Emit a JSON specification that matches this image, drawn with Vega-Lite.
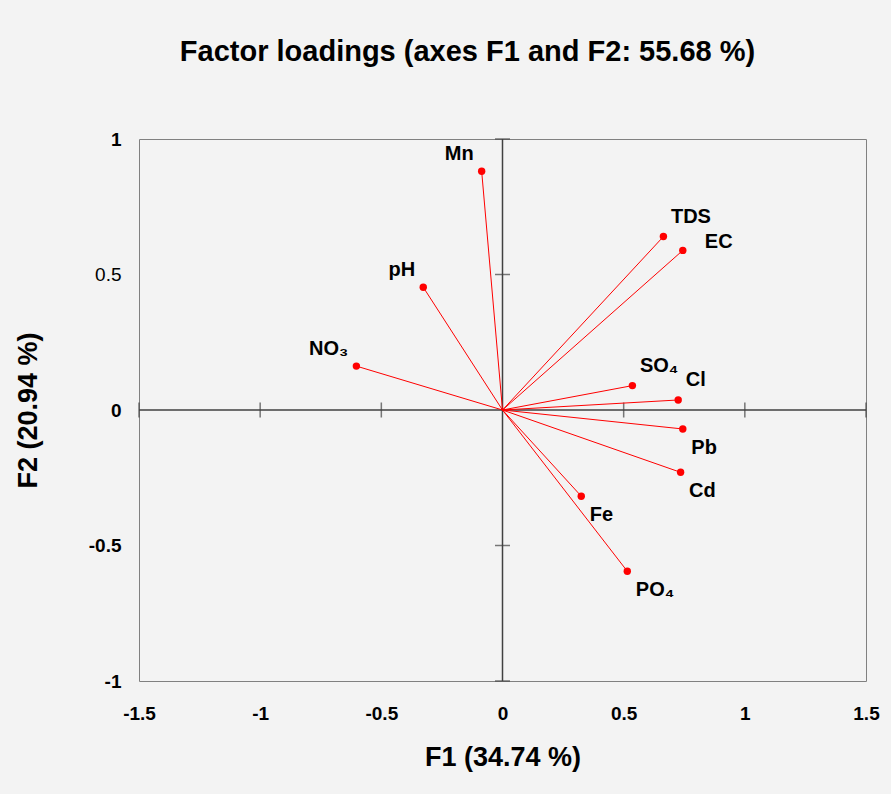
{
  "$schema": "https://vega.github.io/schema/vega-lite/v6.json",
  "autosize": {"type": "none"},
  "width": 727,
  "height": 542,
  "padding": {"left": 139, "top": 139, "right": 25, "bottom": 113},
  "background": "#f3f3f3",
  "title": {
    "text": "Factor loadings (axes F1 and F2: 55.68 %)",
    "font": "Liberation Sans",
    "fontSize": 29,
    "fontWeight": "bold",
    "color": "#000000",
    "anchor": "middle",
    "frame": "group",
    "baseline": "alphabetic",
    "offset": 40,
    "dx": -35
  },
  "config": {
    "view": {"stroke": "#808080", "strokeWidth": 1, "fill": "#f3f3f3"},
    "axis": {
      "domain": false,
      "ticks": false,
      "tickSize": 0,
      "grid": false,
      "labelFont": "Liberation Sans",
      "labelFontSize": 19,
      "labelColor": "#000000",
      "labelFlush": false,
      "labelOverlap": false,
      "titleFont": "Liberation Sans",
      "titleFontSize": 27,
      "titleFontWeight": "bold",
      "titleColor": "#000000"
    },
    "axisX": {"labelPadding": 23, "titlePadding": 21, "labelFontWeight": "bold"},
    "axisY": {"labelPadding": 18, "titlePadding": 46}
  },
  "datasets": {
    "loadings": [
      {"variable": "Mn", "F1": -0.086, "F2": 0.881},
      {"variable": "pH", "F1": -0.327, "F2": 0.453},
      {"variable": "NO₃", "F1": -0.603, "F2": 0.162},
      {"variable": "TDS", "F1": 0.664, "F2": 0.640},
      {"variable": "EC", "F1": 0.744, "F2": 0.589},
      {"variable": "SO₄", "F1": 0.536, "F2": 0.090},
      {"variable": "Cl", "F1": 0.725, "F2": 0.037},
      {"variable": "Pb", "F1": 0.744, "F2": -0.070},
      {"variable": "Cd", "F1": 0.735, "F2": -0.230},
      {"variable": "Fe", "F1": 0.325, "F2": -0.318},
      {"variable": "PO₄", "F1": 0.515, "F2": -0.595}
    ],
    "axisLines": [
      {"xa": -1.5, "xb": 1.5, "ya": 0, "yb": 0},
      {"xa": 0, "xb": 0, "ya": -1, "yb": 1}
    ],
    "xTicks": [{"v": -1.5}, {"v": -1}, {"v": -0.5}, {"v": 0.5}, {"v": 1}, {"v": 1.5}],
    "yTicks": [{"v": -1}, {"v": -0.5}, {"v": 0.5}, {"v": 1}]
  },
  "layer": [
    {
      "data": {"name": "axisLines"},
      "mark": {"type": "rule", "color": "#404040", "strokeWidth": 1.5},
      "encoding": {
        "x": {
          "field": "xa", "type": "quantitative", "title": "F1 (34.74 %)",
          "scale": {"domain": [-1.5, 1.5], "nice": false, "zero": false},
          "axis": {
            "title": "F1 (34.74 %)",
            "values": [-1.5, -1, -0.5, 0, 0.5, 1, 1.5],
            "labelExpr": "'' + datum.value"
          }
        },
        "x2": {"field": "xb"},
        "y": {
          "field": "ya", "type": "quantitative", "title": "F2 (20.94 %)",
          "scale": {"domain": [-1, 1], "nice": false, "zero": false},
          "axis": {
            "title": "F2 (20.94 %)",
            "values": [-1, -0.5, 0, 0.5, 1],
            "labelExpr": "'' + datum.value",
            "labelFontWeight": {"condition": {"test": "datum.value === 0.5", "value": "normal"}, "value": "bold"}
          }
        },
        "y2": {"field": "yb"}
      }
    },
    {
      "data": {"name": "xTicks"},
      "mark": {"type": "tick", "orient": "vertical", "color": "#404040", "thickness": 1.5, "size": 15},
      "encoding": {
        "x": {"field": "v", "type": "quantitative", "title": "F1 (34.74 %)"},
        "y": {"datum": 0, "type": "quantitative", "title": "F2 (20.94 %)"}
      }
    },
    {
      "data": {"name": "yTicks"},
      "mark": {"type": "tick", "orient": "horizontal", "color": "#404040", "thickness": 1.5, "size": 15},
      "encoding": {
        "y": {"field": "v", "type": "quantitative", "title": "F2 (20.94 %)"},
        "x": {"datum": 0, "type": "quantitative", "title": "F1 (34.74 %)"}
      }
    },
    {
      "data": {"name": "loadings"},
      "mark": {"type": "rule", "color": "#ff0000", "strokeWidth": 1},
      "encoding": {
        "x": {"field": "F1", "type": "quantitative", "title": "F1 (34.74 %)"},
        "y": {"field": "F2", "type": "quantitative", "title": "F2 (20.94 %)"},
        "x2": {"datum": 0},
        "y2": {"datum": 0}
      }
    },
    {
      "data": {"name": "loadings"},
      "mark": {"type": "point", "shape": "circle", "filled": true, "color": "#ff0000", "size": 55, "opacity": 1},
      "encoding": {
        "x": {"field": "F1", "type": "quantitative", "title": "F1 (34.74 %)"},
        "y": {"field": "F2", "type": "quantitative", "title": "F2 (20.94 %)"}
      }
    },
    {
      "data": {"name": "loadings"},
      "transform": [{"filter": {"field": "variable", "oneOf": ["Mn", "pH", "NO₃"]}}],
      "mark": {"type": "text", "align": "right", "baseline": "alphabetic", "dx": -8, "dy": -11, "font": "Liberation Sans", "fontSize": 20, "fontWeight": "bold", "color": "#000000"},
      "encoding": {
        "x": {"field": "F1", "type": "quantitative", "title": "F1 (34.74 %)"},
        "y": {"field": "F2", "type": "quantitative", "title": "F2 (20.94 %)"},
        "text": {"field": "variable"}
      }
    },
    {
      "data": {"name": "loadings"},
      "transform": [{"filter": {"field": "variable", "oneOf": ["TDS", "SO₄", "Cl"]}}],
      "mark": {"type": "text", "align": "left", "baseline": "alphabetic", "dx": 7.5, "dy": -13.5, "font": "Liberation Sans", "fontSize": 20, "fontWeight": "bold", "color": "#000000"},
      "encoding": {
        "x": {"field": "F1", "type": "quantitative", "title": "F1 (34.74 %)"},
        "y": {"field": "F2", "type": "quantitative", "title": "F2 (20.94 %)"},
        "text": {"field": "variable"}
      }
    },
    {
      "data": {"name": "loadings"},
      "transform": [{"filter": {"field": "variable", "oneOf": ["EC"]}}],
      "mark": {"type": "text", "align": "left", "baseline": "alphabetic", "dx": 22, "dy": -2, "font": "Liberation Sans", "fontSize": 20, "fontWeight": "bold", "color": "#000000"},
      "encoding": {
        "x": {"field": "F1", "type": "quantitative", "title": "F1 (34.74 %)"},
        "y": {"field": "F2", "type": "quantitative", "title": "F2 (20.94 %)"},
        "text": {"field": "variable"}
      }
    },
    {
      "data": {"name": "loadings"},
      "transform": [{"filter": {"field": "variable", "oneOf": ["Pb", "Cd", "Fe", "PO₄"]}}],
      "mark": {"type": "text", "align": "left", "baseline": "alphabetic", "dx": 8.5, "dy": 25, "font": "Liberation Sans", "fontSize": 20, "fontWeight": "bold", "color": "#000000"},
      "encoding": {
        "x": {"field": "F1", "type": "quantitative", "title": "F1 (34.74 %)"},
        "y": {"field": "F2", "type": "quantitative", "title": "F2 (20.94 %)"},
        "text": {"field": "variable"}
      }
    }
  ]
}
